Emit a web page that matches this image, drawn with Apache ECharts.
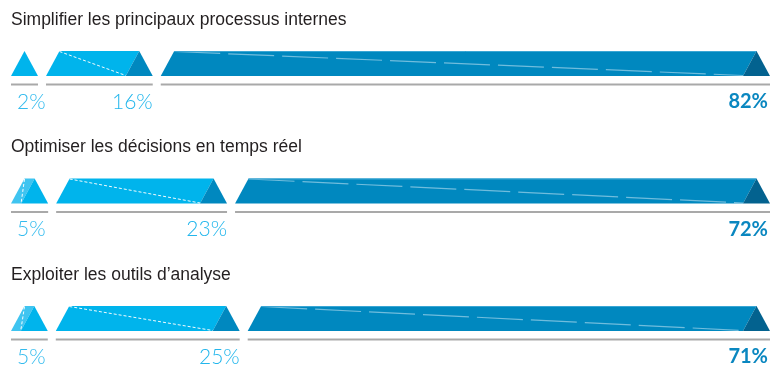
<!DOCTYPE html>
<html>
<head>
<meta charset="utf-8">
<script src="https://cdn.jsdelivr.net/npm/echarts@6/dist/echarts.min.js"></script>
<style>
  html, body { margin: 0; padding: 0; background: #ffffff; }
  #chart { width: 774px; height: 367px; }
</style>
</head>
<body>
<div id="chart"></div>
<script>
// Row titles (one per question)
const rowTitles = [
  'Simplifier les principaux processus internes',
  'Optimiser les décisions en temps réel',
  'Exploiter les outils d\u2019analyse'
];
// Share of answers per row, in percent
const lowShare = [2, 5, 5];
const midShare = [16, 23, 25];
const highShare = [82, 72, 71];

// Prism geometry (pixels)
const PRISM_H = 25;     // height of a prism
const SLOPE = 13.5;     // horizontal run of a sloped end
const MIN_W = 2 * SLOPE; // narrowest prism: a single triangle
const GAP = 8;          // space between prisms of one row

// Colours per band: front face, end face, label
const faceColors = ['#3fc4f0', '#00b4ec', '#0088bf'];
const endColors = ['#00b4ec', '#0088bf', '#03628f'];
const labelColors = ['#33bbee', '#22b6ec', '#0a87c0'];

// Horizontal layout of one row between two pixel bounds
function rowLayout(row, xStart, xEnd) {
  const vals = [lowShare[row], midShare[row], highShare[row]];
  const sum = vals[0] + vals[1] + vals[2];
  const avail = (xEnd - xStart) - GAP * (vals.length - 1);
  const w = vals.map(v => v / sum * avail);
  for (let i = 0; i < w.length - 1; i++) {
    if (w[i] < MIN_W) {
      w[i + 1] -= (MIN_W - w[i]);
      w[i] = MIN_W;
    }
  }
  const spans = [];
  let x = xStart;
  for (let i = 0; i < w.length; i++) {
    spans.push([x, x + w[i]]);
    x += w[i] + GAP;
  }
  return { vals, spans };
}

const items = [];
for (let r = 0; r < rowTitles.length; r++) {
  for (let c = 0; c < 3; c++) items.push([0, r, c]);
}

function renderItem(params, api) {
  const row = api.value(1);
  const band = api.value(2);
  const anchor = api.coord([0, row]);
  const xEnd = api.coord([100, row])[0];
  const layout = rowLayout(row, anchor[0], xEnd);
  const x0 = layout.spans[band][0];
  const x1 = layout.spans[band][1];
  const yb = anchor[1];
  const yt = yb - PRISM_H;
  const children = [];

  // front face
  if (x1 - x0 > MIN_W + 0.5) {
    children.push({
      type: 'polygon',
      shape: { points: [[x0, yb], [x0 + SLOPE, yt], [x1 - SLOPE, yt], [x1 - 2 * SLOPE, yb]] },
      style: { fill: faceColors[band] }
    });
    // edge running across the face
    if (band < 2) {
      children.push({
        type: 'line',
        shape: { x1: x0 + SLOPE, y1: yt + 0.5, x2: x1 - 2 * SLOPE, y2: yb - 0.5 },
        style: { stroke: '#ffffff', lineWidth: 1, lineDash: [3, 2], opacity: 0.95 }
      });
    } else {
      children.push({
        type: 'line',
        shape: { x1: x0 + SLOPE, y1: yt + 0.5, x2: x1 - 2 * SLOPE, y2: yb - 0.5 },
        style: { stroke: '#dff2fb', lineWidth: 1.2, lineDash: [46, 8], opacity: 0.5 }
      });
      children.push({
        type: 'line',
        shape: { x1: x0 + SLOPE, y1: yt + 0.5, x2: x1 - SLOPE, y2: yt + 0.5 },
        style: { stroke: '#3aa6d4', lineWidth: 1 }
      });
    }
  }
  // end face
  children.push({
    type: 'polygon',
    shape: { points: [[x1 - 2 * SLOPE, yb], [x1 - SLOPE, yt], [x1, yb]] },
    style: { fill: endColors[band] }
  });
  // base rule
  children.push({
    type: 'line',
    shape: { x1: x0, y1: yb + 8.5, x2: x1, y2: yb + 8.5 },
    style: { stroke: '#a9a9a9', lineWidth: 2 }
  });
  // value label
  const isHigh = band === 2;
  children.push({
    type: 'text',
    x: band === 0 ? x0 + 6 : (isHigh ? x1 - 2 : x1),
    y: yb + 26,
    style: {
      text: layout.vals[band] + '%',
      fill: labelColors[band],
      font: (isHigh ? 'bold 20px ' : '300 21px ') + 'Lato, "Open Sans", sans-serif',
      align: band === 0 ? 'left' : 'right',
      verticalAlign: 'middle'
    }
  });
  // row title
  if (band === 0) {
    children.push({
      type: 'text',
      x: anchor[0],
      y: yb - 56,
      style: {
        text: rowTitles[row],
        fill: '#231f20',
        font: '17.5px "Liberation Sans", Arial, sans-serif',
        align: 'left',
        verticalAlign: 'middle'
      }
    });
  }
  return { type: 'group', children };
}

const chart = echarts.init(document.getElementById('chart'), null, { renderer: 'canvas' });
chart.setOption({
  animation: false,
  backgroundColor: '#ffffff',
  grid: { left: 11, right: 4, top: 76, bottom: 36 },
  xAxis: { type: 'value', min: 0, max: 100, show: false },
  yAxis: { type: 'value', min: 0, max: 2, inverse: true, show: false },
  series: [{
    type: 'custom',
    renderItem: renderItem,
    encode: { x: 0, y: 1 },
    clip: false,
    data: items
  }]
});
</script>
</body>
</html>
